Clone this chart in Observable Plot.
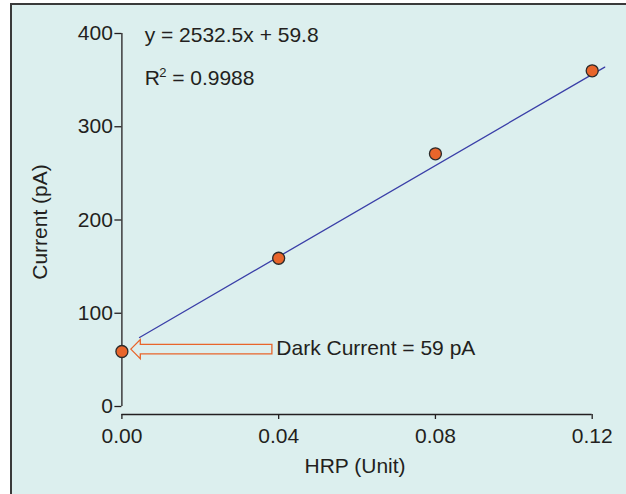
<!DOCTYPE html>
<html>
<head>
<meta charset="utf-8">
<script src="https://cdn.jsdelivr.net/npm/d3@7"></script>
<script src="https://cdn.jsdelivr.net/npm/@observablehq/plot@0.6"></script>
<style>
  html, body { margin: 0; padding: 0; background: #ffffff; overflow: hidden; }
  #wrap { position: relative; width: 626px; height: 494px; }
  #panel { position: absolute; left: 10px; top: 3px; width: 640px; height: 520px;
           background: #dcefee; border-left: 2px solid #3a3a3a; border-top: 2px solid #3a3a3a; }
  #chart { position: absolute; left: 0; top: 0; }
</style>
</head>
<body>
<div id="wrap"><div id="panel"></div><div id="chart"></div></div>
<script>
// Data
const hrp = [0, 0.04, 0.08, 0.12];
const current = [59, 159, 271, 360];
const xTicks = [0, 0.04, 0.08, 0.12];
const yTicks = [0, 100, 200, 300, 400];
const fitX = [0.0045, 0.1232];
const fitY = [74, 364];
const equationText = "y = 2532.5x + 59.8";
const r2Base = "R", r2Sup = "2", r2Value = "= 0.9988";
const annX = 0.0058;
const equationY = 398, r2Y = 352;
const darkLabel = "Dark Current = 59 pA";
const darkLabelX = 0.0394, darkLabelY = 62;
const arrowTipX = 0.0024, arrowTailX = 0.0384, arrowY = 61;

const points = hrp.map((x, i) => ({x, y: current[i]}));
const fit = fitX.map((x, i) => ({x, y: fitY[i]}));

const ink = "#231f20";
const orange = "#e8652b";
const FS = 21;

function blockArrow(index, scales) {
  const x0 = scales.x(arrowTipX), x1 = scales.x(arrowTailX), y = scales.y(arrowY);
  const head = 9.5, hh = 9.5, sh = 4.7;
  const d = `M${x0},${y} L${x0 + head},${y - hh} L${x0 + head},${y - sh} L${x1},${y - sh} L${x1},${y + sh} L${x0 + head},${y + sh} L${x0 + head},${y + hh} Z`;
  const g = d3.create("svg:g");
  g.append("path").attr("d", d).attr("fill", "#dcefee").attr("stroke", orange).attr("stroke-width", 1.3).attr("stroke-linejoin", "miter");
  return g.node();
}

const chart = Plot.plot({
  width: 626,
  height: 494,
  marginLeft: 121.4,
  marginRight: 34.3,
  marginTop: 33,
  marginBottom: 80,
  style: {background: "transparent", fontFamily: "Liberation Sans, Arial, Helvetica, sans-serif", fontSize: FS + "px", color: ink, overflow: "visible"},
  x: {domain: [0, 0.12]},
  y: {domain: [0, 400], insetBottom: 8},
  marks: [
    Plot.axisY(yTicks, {tickSize: 7, tickPadding: 2, label: null, tickFormat: d => String(d), stroke: ink, strokeWidth: 1.3, fontSize: FS}),
    Plot.axisX(xTicks, {tickSize: 5, tickPadding: 9, label: null, tickFormat: d3.format(".2f"), stroke: ink, strokeWidth: 1.3, fontSize: FS}),
    Plot.ruleY([0], {x1: 0, x2: 0.12, dy: 8, stroke: ink, strokeWidth: 1.3}),
    Plot.ruleX([0], {y1: 0, y2: 400, stroke: ink, strokeWidth: 1.3}),
    Plot.text(["Current (pA)"], {frameAnchor: "left", textAnchor: "middle", lineAnchor: "middle", dx: -82, dy: -2, rotate: -90, fill: ink, fontSize: FS}),
    Plot.text(["HRP (Unit)"], {frameAnchor: "bottom", textAnchor: "middle", lineAnchor: "middle", dx: -2, dy: 52, fill: ink, fontSize: FS}),
    Plot.line(fit, {x: "x", y: "y", stroke: "#3a3fa8", strokeWidth: 1.3}),
    blockArrow,
    Plot.dot(points, {x: "x", y: "y", r: 6, fill: orange, stroke: "#2b2b2b", strokeWidth: 1.3}),
    Plot.text([equationText], {x: annX, y: equationY, textAnchor: "start", fill: ink, fontSize: FS}),
    Plot.text([r2Base], {x: annX, y: r2Y, textAnchor: "start", fill: ink, fontSize: FS}),
    Plot.text([r2Sup], {x: annX, y: r2Y, dx: 14.5, dy: -5.5, textAnchor: "start", fill: ink, fontSize: 13}),
    Plot.text([r2Value], {x: annX, y: r2Y, dx: 27.5, textAnchor: "start", fill: ink, fontSize: FS}),
    Plot.text([darkLabel], {x: darkLabelX, y: darkLabelY, textAnchor: "start", fill: ink, fontSize: FS})
  ]
});
document.getElementById("chart").appendChild(chart);
</script>
</body>
</html>
